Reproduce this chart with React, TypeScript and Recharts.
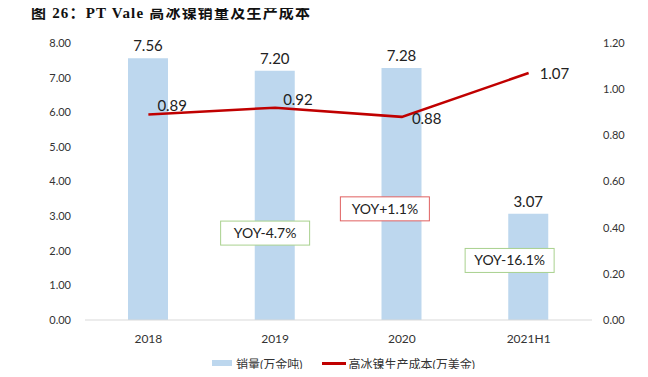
import {
  Bar,
  ComposedChart,
  LabelList,
  Line,
  ReferenceDot,
  XAxis,
  YAxis,
} from "recharts";

const years = ["2018", "2019", "2020", "2021H1"];
const salesVolume = [7.56, 7.2, 7.28, 3.07];
const productionCost = [0.89, 0.92, 0.88, 1.07];

const leftTicks = [0, 1, 2, 3, 4, 5, 6, 7, 8];
const rightTicks = [0, 0.2, 0.4, 0.6, 0.8, 1.0, 1.2];

const yoyText = ["YOY-4.7%", "YOY+1.1%", "YOY-16.1%"];
const yoyYear = ["2019", "2020", "2021H1"];
const yoyLevel = [2.51, 3.21, 1.72];
const yoyColor = ["#A9D18E", "#E06060", "#A9D18E"];

const data = years.map((year, i) => ({
  year,
  sales: salesVolume[i],
  cost: productionCost[i],
}));

const FONT = "Lato, 'Noto Sans CJK SC', sans-serif";
const BAR_COLOR = "#BDD7EE";
const LINE_COLOR = "#C00000";

// label offsets for the cost line, picked by eye
const costLabelShift = [
  { dx: 9, dy: -9 },
  { dx: 8, dy: -8 },
  { dx: 10, dy: 2 },
  { dx: 11, dy: 1 },
];

const CostLabel = (props: any) => {
  const { x, y, value, index } = props;
  const s = costLabelShift[index] || { dx: 8, dy: 0 };
  return (
    <text
      x={x + s.dx}
      y={y + s.dy}
      dy="0.35em"
      textAnchor="start"
      fontSize={15}
      fill="#222"
      fontFamily={FONT}
    >
      {Number(value).toFixed(2)}
    </text>
  );
};

const boxShift = [-10, -17, -19];

const YoyBox = (i: number) => (props: any) => {
  const { cx, cy } = props;
  const w = 89;
  const h = 24;
  const x = cx + boxShift[i] - w / 2;
  const y = cy - h / 2;
  return (
    <g>
      <rect x={x} y={y} width={w} height={h} fill="#fff" stroke={yoyColor[i]} strokeWidth={1} />
      <text
        x={x + w / 2}
        y={y + h / 2}
        dy="0.35em"
        textAnchor="middle"
        fontSize={14}
        fill="#222"
        fontFamily={FONT}
      >
        {yoyText[i]}
      </text>
    </g>
  );
};

export default function App() {
  return (
    <div style={{ position: "relative", width: 648, height: 377, margin: -8, background: "#fff" }}>
      <div
        style={{
          position: "absolute",
          left: 31,
          top: 1,
          fontFamily: "'Liberation Serif', 'Noto Sans CJK SC', serif",
          fontWeight: 700,
          fontSize: 15,
          letterSpacing: 1.2,
          color: "#111",
        }}
      >
        图 26：PT Vale 高冰镍销量及生产成本
      </div>
      <ComposedChart
        width={648}
        height={377}
        data={data}
        margin={{ top: 43, right: 6, bottom: 32, left: 25 }}
        style={{ position: "absolute", left: 0, top: 0 }}
      >
        <XAxis
          dataKey="year"
          axisLine={{ stroke: "#D9D9D9" }}
          tickLine={false}
          tick={{ fontSize: 12, fill: "#333", fontFamily: FONT }}
          tickMargin={8}
          height={25}
        />
        <YAxis
          yAxisId="left"
          domain={[0, 8]}
          ticks={leftTicks}
          interval={0}
          width={60}
          axisLine={false}
          tickLine={false}
          tickMargin={8}
          tickFormatter={(v: number) => v.toFixed(2)}
          tick={{ fontSize: 11, fill: "#333", fontFamily: FONT }}
        />
        <YAxis
          yAxisId="right"
          orientation="right"
          domain={[0, 1.2]}
          ticks={rightTicks}
          interval={0}
          width={50}
          axisLine={false}
          tickLine={false}
          tickMargin={5}
          tickFormatter={(v: number) => v.toFixed(2)}
          tick={{ fontSize: 11, fill: "#333", fontFamily: FONT, textAnchor: "start" }}
        />
        <Bar yAxisId="left" dataKey="sales" fill={BAR_COLOR} barSize={40} isAnimationActive={false}>
          <LabelList
            dataKey="sales"
            position="top"
            offset={7}
            formatter={(v: any) => Number(v).toFixed(2)}
            style={{ fontSize: 15, fill: "#222", fontFamily: FONT }}
          />
        </Bar>
        <Line
          yAxisId="right"
          dataKey="cost"
          stroke={LINE_COLOR}
          strokeWidth={2.5}
          dot={false}
          type="linear"
          isAnimationActive={false}
        >
          <LabelList dataKey="cost" content={CostLabel} />
        </Line>
        {yoyText.map((t, i) => (
          <ReferenceDot
            key={t}
            yAxisId="left"
            x={yoyYear[i]}
            y={yoyLevel[i]}
            r={0}
            shape={YoyBox(i)}
          />
        ))}
      </ComposedChart>
      <div
        style={{
          position: "absolute",
          left: 212,
          top: 354,
          height: 18,
          display: "flex",
          alignItems: "center",
          fontFamily: FONT,
          fontSize: 12,
          color: "#333",
          whiteSpace: "nowrap",
        }}
      >
        <span style={{ width: 20, height: 6, background: BAR_COLOR, marginRight: 4 }} />
        <span style={{ marginRight: 20 }}>销量(万金吨)</span>
        <span style={{ width: 24, height: 3, background: LINE_COLOR, marginRight: 2 }} />
        <span>高冰镍生产成本(万美金)</span>
      </div>
      <div
        style={{
          position: "absolute",
          left: 22,
          top: 375,
          width: 598,
          height: 1,
          background: "#E6E6E6",
        }}
      />
    </div>
  );
}
